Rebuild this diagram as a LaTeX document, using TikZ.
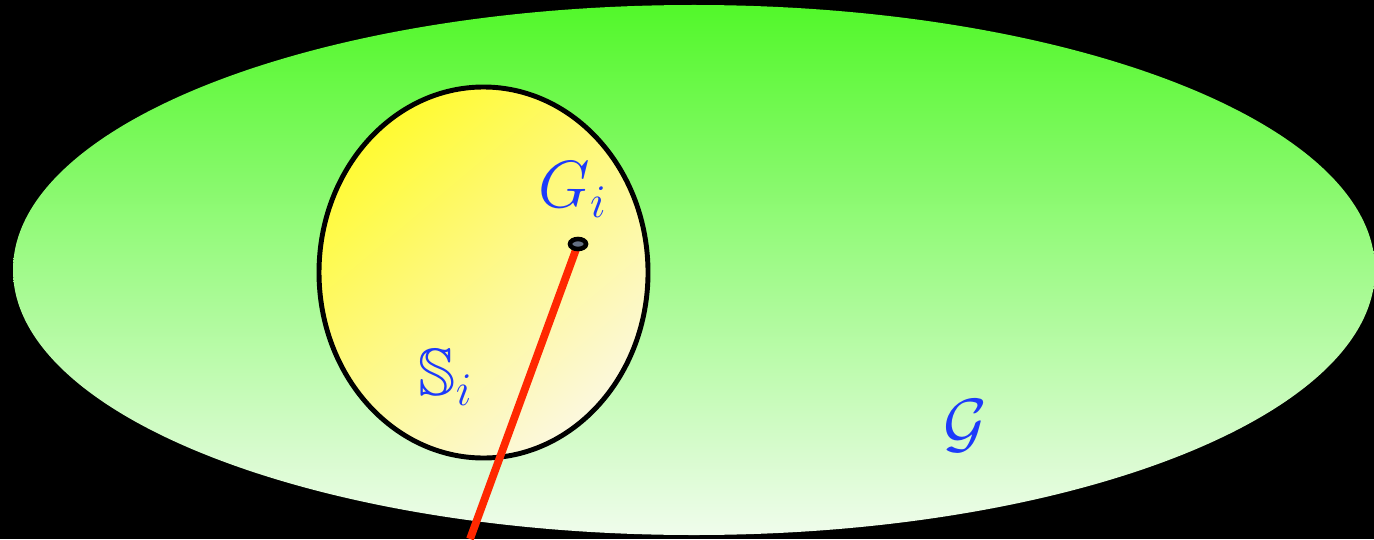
\RequirePackage{fix-cm}
\documentclass[tikz,border=0pt]{standalone}
\usepackage{amsmath,amssymb}
\usepackage{xcolor}
\usepackage{tikz}
\usetikzlibrary{positioning, shapes.geometric}
\definecolor{labelblue}{RGB}{28,58,250}
\definecolor{setgreen}{RGB}{82,248,42}
\definecolor{setpale}{RGB}{240,252,236}
\definecolor{cellyellow}{RGB}{255,250,50}
\definecolor{cellpale}{RGB}{252,248,222}
\definecolor{rayred}{RGB}{255,40,0}
\definecolor{pointgray}{RGB}{100,112,132}
\tikzset{
  lbl/.style={text=labelblue, font=\fontsize{19}{23}\selectfont, inner sep=1pt},
  point/.style={ellipse, draw=black, line width=1.3pt, fill=pointgray,
    minimum width=0.16cm, minimum height=0.10cm, inner sep=0pt},
  ray/.style={draw=rayred, line width=2.2pt}
}

\begin{document}
\begin{tikzpicture}[x=0.01cm, y=0.01cm]
  \useasboundingbox (0,0) rectangle (1374,539);
  \fill[black] (0,0) rectangle (1374,539);

  % the big set
  \shade[top color=setgreen, bottom color=setpale] (694,269) ellipse [x radius=681, y radius=265];

  % the cell
  \shade[top color=cellyellow, bottom color=cellpale, shading angle=40]
    (483.5,266.5) ellipse [x radius=164.5, y radius=185.5];
  \draw[line width=1.4pt] (483.5,266.5) ellipse [x radius=164.5, y radius=185.5];

  \coordinate (gen) at (578,295);
  \coordinate (foot) at (470,0);
  \draw[ray] (gen) -- (foot);
  \node[point] (dot) at (gen) {};

  \node[lbl] (gilab) at (573,349) {$G_i$};
  \node[lbl] (silab) at (446,162) {$\mathbb{S}_i$};
  \node[lbl] (glab) at (965,113) {$\mathcal{G}$};
\end{tikzpicture}
\end{document}
